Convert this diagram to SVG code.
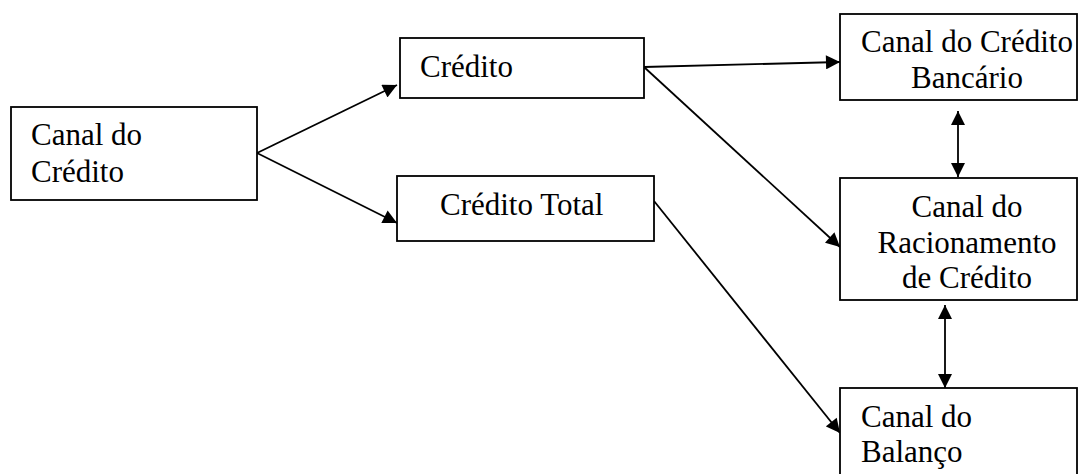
<svg xmlns="http://www.w3.org/2000/svg" width="1080" height="474" viewBox="0 0 1080 474">
<style>
.box{fill:#fff;stroke:#000;stroke-width:1.8}
.t{font-family:"Liberation Serif","Times New Roman",serif;font-size:31px;fill:#000}
.c{text-anchor:middle}
.ln{stroke:#000;stroke-width:1.8;fill:none}
</style>
<defs>
<marker id="ah" viewBox="0 0 10 10" refX="10" refY="5" markerWidth="15" markerHeight="14" markerUnits="userSpaceOnUse" orient="auto-start-reverse">
<path d="M0,0 L10,5 L0,10 Z" fill="#000"/>
</marker>
</defs>
<rect width="1080" height="474" fill="#fff"/>
<g id="connectors">
<line class="ln" x1="257" y1="153" x2="397" y2="85" marker-end="url(#ah)"/>
<line class="ln" x1="257" y1="153" x2="397" y2="223" marker-end="url(#ah)"/>
<line class="ln" x1="644" y1="67" x2="840" y2="62" marker-end="url(#ah)"/>
<line class="ln" x1="644" y1="67" x2="840" y2="247" marker-end="url(#ah)"/>
<line class="ln" x1="654" y1="201" x2="840" y2="433" marker-end="url(#ah)"/>
<line class="ln" x1="958" y1="111" x2="958" y2="177" marker-start="url(#ah)" marker-end="url(#ah)"/>
<line class="ln" x1="945" y1="305" x2="945" y2="388" marker-start="url(#ah)" marker-end="url(#ah)"/>
</g>
<g id="canal-credito">
<rect class="box" x="11" y="107" width="246" height="93"/>
<text class="t" x="31" y="145">Canal do</text>
<text class="t" x="31" y="182">Crédito</text>
</g>
<g id="credito">
<rect class="box" x="400" y="38" width="244" height="60"/>
<text class="t" x="420" y="77">Crédito</text>
</g>
<g id="credito-total">
<rect class="box" x="397" y="176" width="257" height="65"/>
<text class="t" x="440" y="215">Crédito Total</text>
</g>
<g id="bancario">
<rect class="box" x="840" y="14" width="237" height="86"/>
<text class="t c" x="967" y="52">Canal do Crédito</text>
<text class="t c" x="967" y="88">Bancário</text>
</g>
<g id="racionamento">
<rect class="box" x="840" y="178" width="237" height="122"/>
<text class="t c" x="967" y="217">Canal do</text>
<text class="t c" x="967" y="253">Racionamento</text>
<text class="t c" x="967" y="288">de Crédito</text>
</g>
<g id="balanco">
<rect class="box" x="840" y="388" width="237" height="100"/>
<text class="t" x="861" y="427">Canal do</text>
<text class="t" x="861" y="462">Balanço</text>
</g>
</svg>
